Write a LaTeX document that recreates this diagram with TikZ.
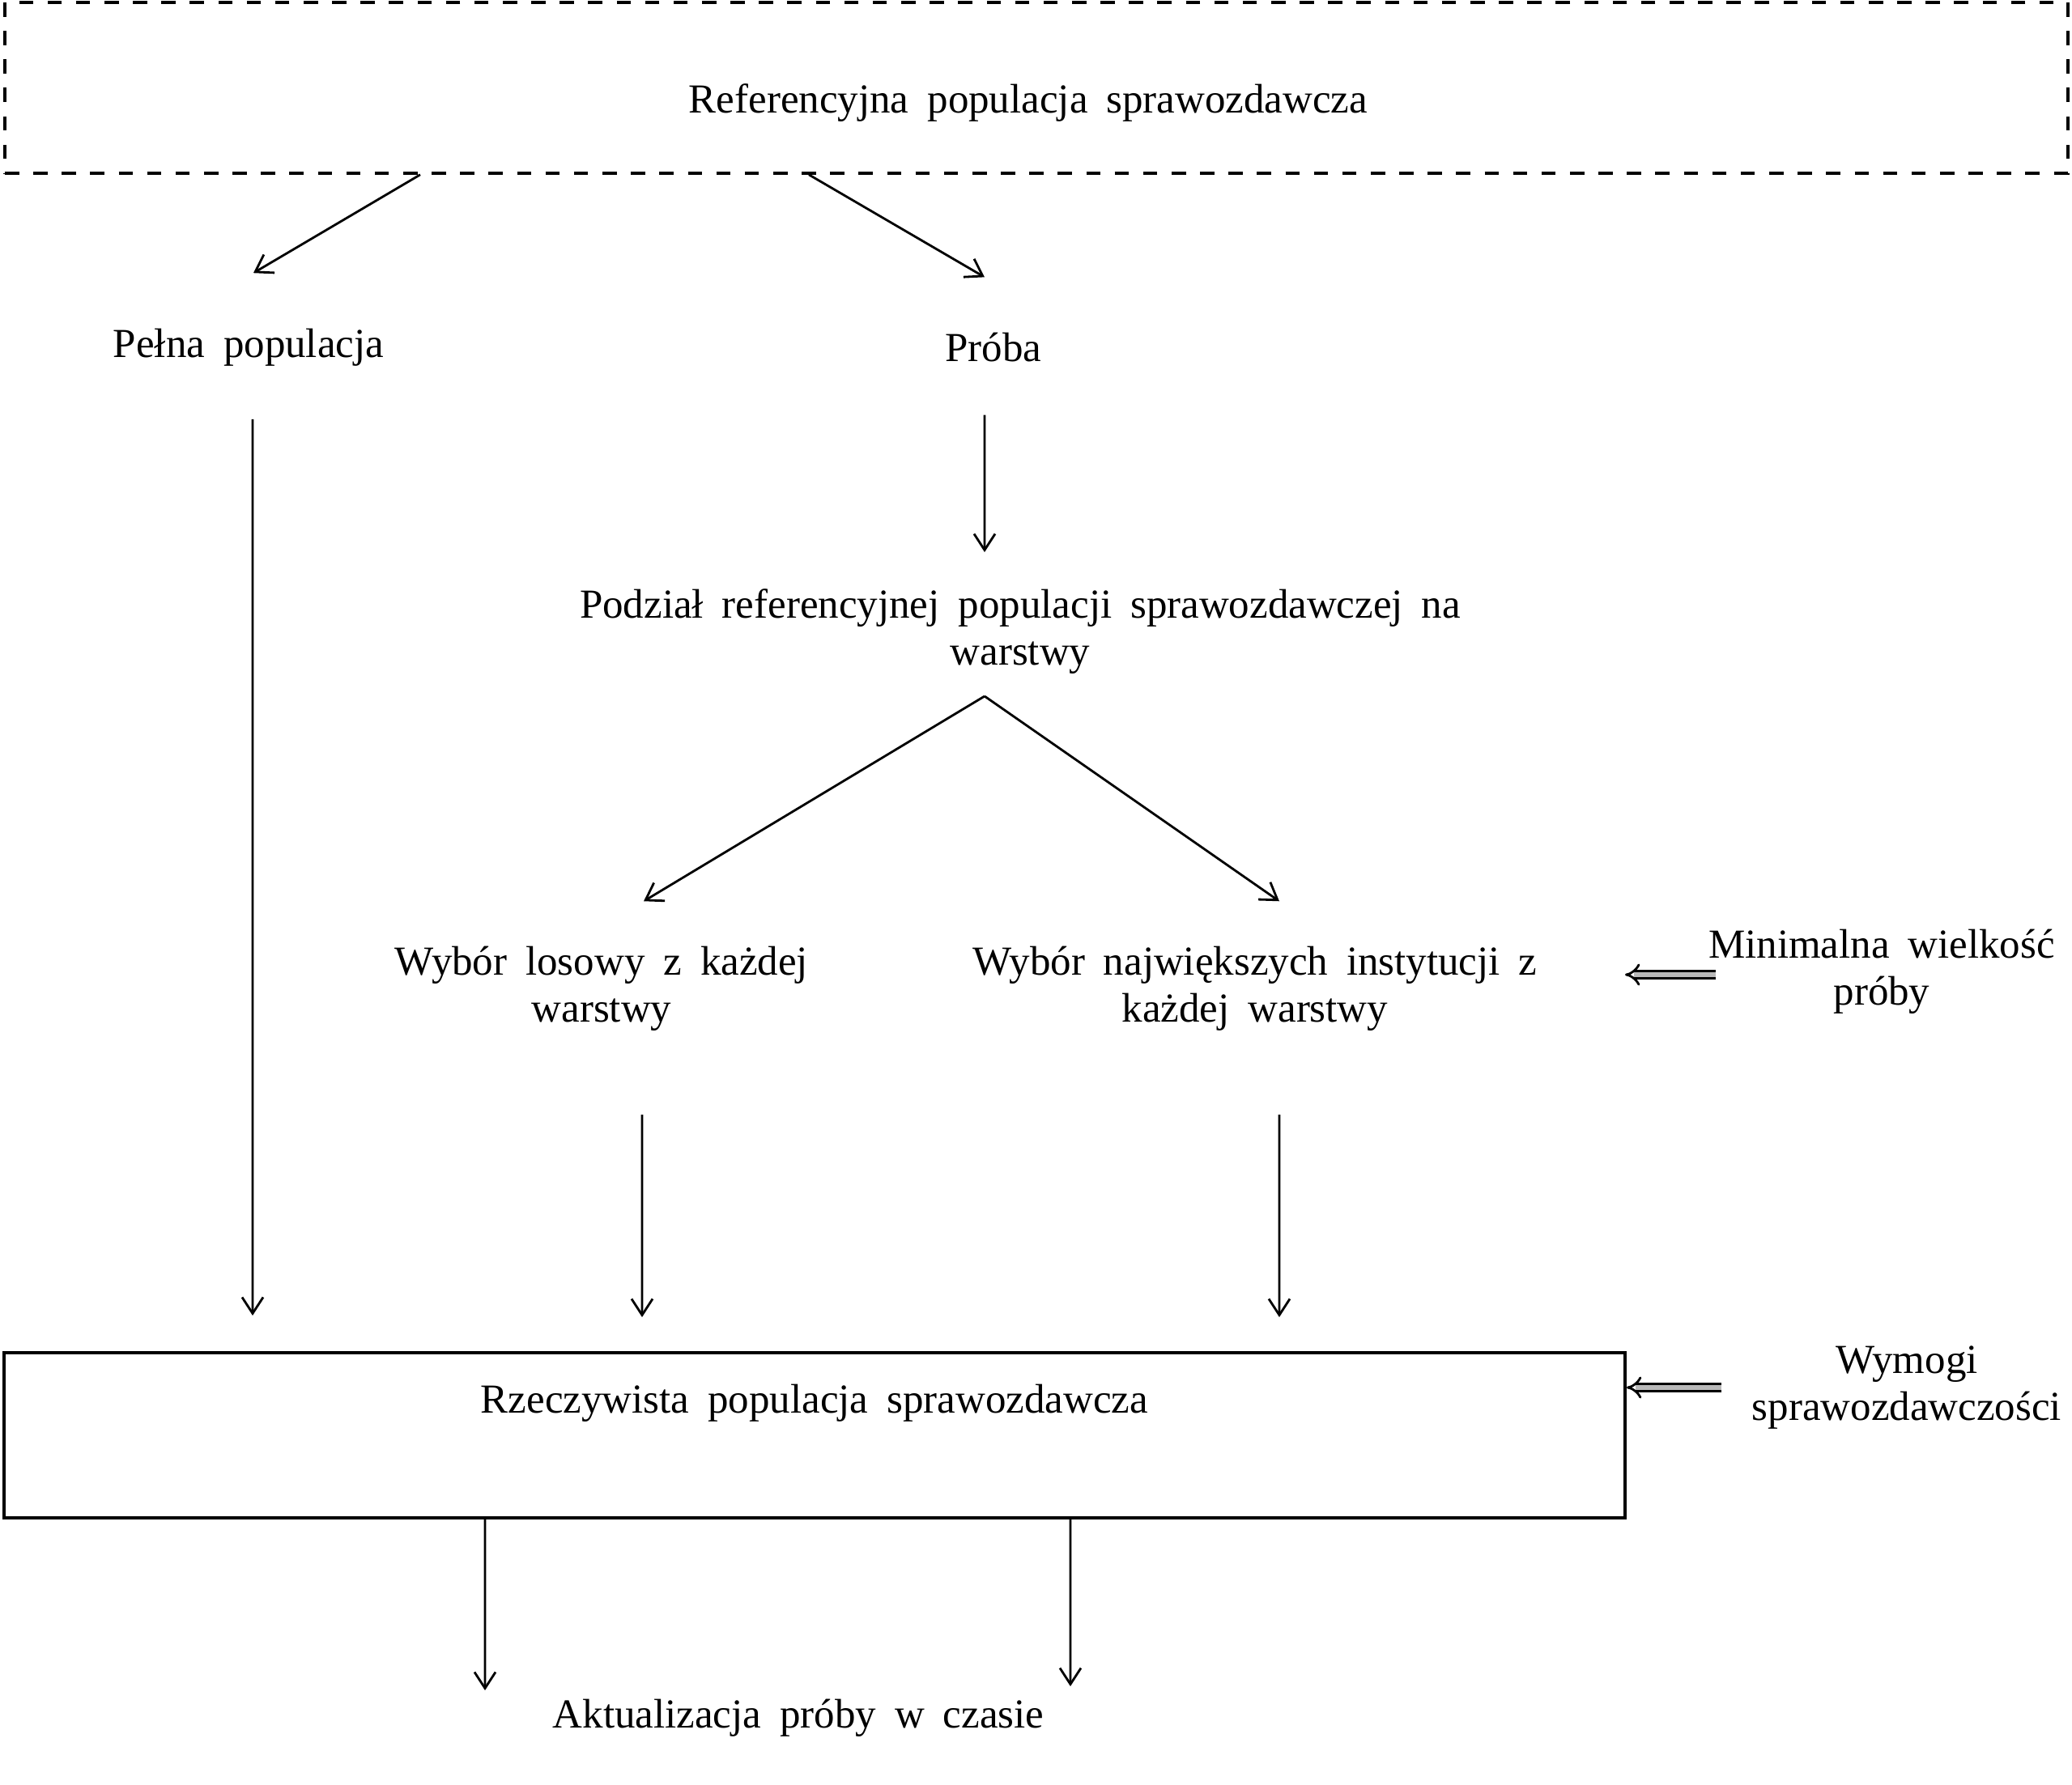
\documentclass[tikz,border=0pt]{standalone}
\usepackage{fontspec}
\setmainfont{Liberation Serif}[WordSpace=1.8]
\usepackage{tikz}
\usetikzlibrary{arrows.meta, positioning}

\begin{document}
\begin{tikzpicture}[
  txt/.style={align=center, font=\fontsize{14.5}{16.4}\selectfont, inner sep=1mm},
  arr/.style={-{Straight Barb[length=2mm, width=2.6mm]}, line width=0.8pt},
  dbl/.style={-{Implies}, double=gray!55, double distance=1.8pt, line width=0.8pt}
]
\useasboundingbox (0,0) rectangle (25.59,-22.05);

\node[txt, draw, dash pattern=on 5pt off 5pt, line width=1pt, minimum width=25.48cm, minimum height=2.11cm] (ref) at (12.80,-1.085) {};
\node[txt] (reftxt) at (12.70,-1.27) {Referencyjna populacja sprawozdawcza};

\node[txt] (pelna) at (3.07,-4.29) {Pełna populacja};
\node[txt] (proba) at (12.27,-4.29) {Próba};
\node[txt] (podzial) at (12.60,-7.80) {Podział referencyjnej populacji sprawozdawczej na\\warstwy};
\node[txt] (losowy) at (7.43,-12.21) {Wybór losowy z każdej\\warstwy};
\node[txt] (najw) at (15.50,-12.21) {Wybór największych instytucji z\\każdej warstwy};
\node[txt] (minimal) at (23.24,-12.00) {Minimalna wielkość\\próby};
\node[txt, draw, line width=1.1pt, inner ysep=0pt, minimum width=20.02cm, text height=0.74cm, text depth=1.30cm, anchor=base] (rzecz) at (10.06,-17.45) {Rzeczywista populacja sprawozdawcza};
\node[txt] (wymogi) at (23.55,-17.14) {Wymogi\\sprawozdawczości};
\node[txt] (aktual) at (9.86,-21.22) {Aktualizacja próby w czasie};

\coordinate (apex) at (12.16,-8.60);
\coordinate (mintip) at (20.07,-12.04);

\draw[arr] ([xshift=-7.61cm]ref.south) -- ([shift={(0.06,0.58)}]pelna.north);
\draw[arr] ([xshift=-2.81cm]ref.south) -- ([shift={(-0.11,0.58)}]proba.north);
\draw[arr] ([shift={(0.05,-0.55)}]pelna.south) -- ([xshift=-6.94cm, yshift=0.44cm]rzecz.north);
\draw[arr] ([shift={(-0.11,-0.55)}]proba.south) -- ([shift={(-0.44,0.35)}]podzial.north);
\draw[arr] (apex) -- ([shift={(0.52,0.45)}]losowy.north);
\draw[arr] (apex) -- ([shift={(0.30,0.45)}]najw.north);
\draw[arr] ([shift={(0.50,-0.93)}]losowy.south) -- ([xshift=-2.13cm, yshift=0.42cm]rzecz.north);
\draw[arr] ([shift={(0.30,-0.93)}]najw.south) -- ([xshift=5.74cm, yshift=0.42cm]rzecz.north);
\draw[dbl] (minimal.west |- mintip) ++(0.2,0) coordinate (minstart) -- (mintip);
\draw[dbl] ([xshift=-0.27cm]wymogi.west) -- (wymogi.west -| rzecz.east);
\draw[arr] ([xshift=-4.07cm]rzecz.south) -- ([shift={(-3.87,0.0)}]aktual.north);
\draw[arr] ([xshift=3.16cm]rzecz.south) -- ([shift={(3.36,0.05)}]aktual.north);
\end{tikzpicture}
\end{document}
